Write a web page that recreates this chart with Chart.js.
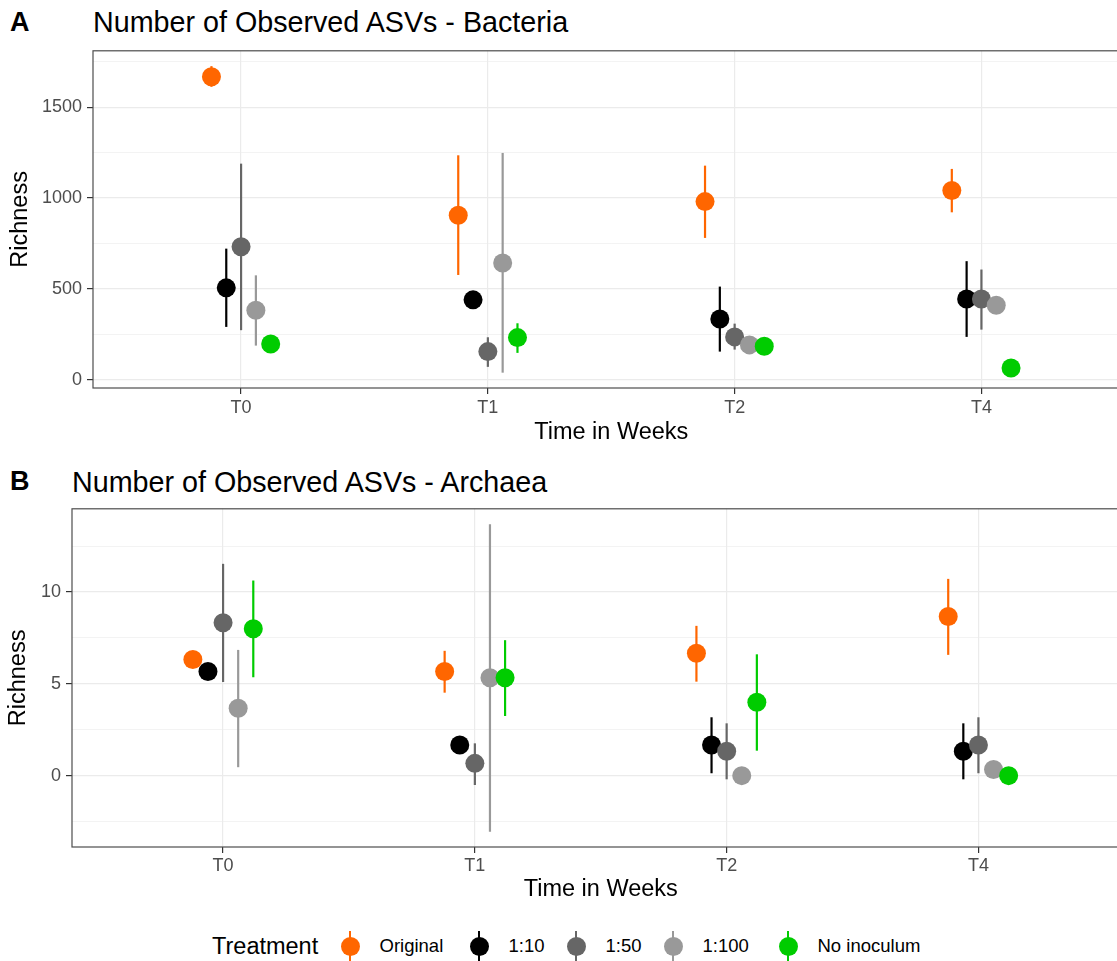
<!DOCTYPE html>
<html>
<head>
<meta charset="utf-8">
<script src="https://cdn.jsdelivr.net/npm/chart.js@4.4.1/dist/chart.umd.min.js"></script>
<style>
  body { margin:0; width:1117px; height:961px; overflow:hidden; background:#fff; position:relative;
         font-family:"Liberation Sans", Arial, sans-serif; }
  .tag { position:absolute; font-weight:bold; font-size:27px; line-height:1; color:#000; }
  .title { position:absolute; font-size:28.7px; line-height:1; color:#000; white-space:nowrap; }
  .wrap { position:absolute; left:0; width:1139px; height:415px; }
  canvas { display:block; }
  #legend { position:absolute; left:0; top:931px; width:1117px; height:30px; }
  #legend .lt { position:absolute; left:212px; top:0; line-height:30px; font-size:23.5px; }
  #legend .item { position:absolute; top:0; height:30px; display:flex; align-items:center; font-size:18.5px; color:#000; white-space:nowrap; }
  .key { position:relative; width:19px; height:30px; margin-right:20px; }
  .key .bar { position:absolute; left:8.5px; top:0; width:2px; height:30px; }
  .key .dot { position:absolute; left:0; top:5.5px; width:19px; height:19px; border-radius:50%; }
</style>
</head>
<body>
<div class="tag" style="left:10px;top:9px">A</div>
<div class="title" style="left:93px;top:8px">Number of Observed ASVs - Bacteria</div>
<div class="wrap" style="top:35px"><canvas id="chartA" width="1139" height="415" style="width:1139px;height:415px"></canvas></div>

<div class="tag" style="left:10px;top:468px">B</div>
<div class="title" style="left:72px;top:468px">Number of Observed ASVs - Archaea</div>
<div class="wrap" style="top:493px"><canvas id="chartB" width="1139" height="415" style="width:1139px;height:415px"></canvas></div>

<div id="legend"><span class="lt">Treatment</span></div>

<script>
  var weeks = ['T0', 'T1', 'T2', 'T4'];
  var treatments = ['Original', '1:10', '1:50', '1:100', 'No inoculum'];
  var colours = ['#FF6600', '#000000', '#666666', '#999999', '#00CC00'];

  // Bacteria: one row per treatment, one value per week
  var bacMean = [
    [1668, 905, 980, 1041],
    [505, 439, 334, 444],
    [731, 154, 235, 444],
    [382, 642, 191, 409],
    [196, 231, 184, 64]
  ];
  var bacLow = [
    [1612, 576, 780, 921],
    [290, 410, 154, 235],
    [272, 70, 165, 275],
    [187, 38, 170, 390],
    [180, 147, 170, 50]
  ];
  var bacHigh = [
    [1726, 1235, 1178, 1160],
    [721, 470, 512, 652],
    [1189, 233, 308, 606],
    [574, 1248, 212, 428],
    [212, 310, 198, 78]
  ];

  // Archaea
  var arcMean = [
    [6.33, 5.67, 6.67, 8.67],
    [5.67, 1.67, 1.67, 1.33],
    [8.33, 0.67, 1.33, 1.67],
    [3.67, 5.33, 0, 0.33],
    [8.0, 5.33, 4.0, 0]
  ];
  var arcLow = [
    [6.0, 4.52, 5.12, 6.58],
    [5.4, 1.4, 0.13, -0.2],
    [5.1, -0.51, -0.2, 0.13],
    [0.46, -3.05, 0, 0.2],
    [5.36, 3.25, 1.36, 0]
  ];
  var arcHigh = [
    [6.67, 6.8, 8.16, 10.72],
    [5.9, 1.9, 3.18, 2.85],
    [11.54, 1.76, 2.85, 3.18],
    [6.85, 13.7, 0, 0.46],
    [10.63, 7.38, 6.61, 0]
  ];

  var dodge = 0.06;
  var legendKeyX = [350, 479, 576, 673, 788];
  var FONT = '"Liberation Sans", Arial, sans-serif';

  // draws each dataset's error bars right before its points (like ggplot pointrange)
  var errorBars = {
    id: 'errorBars',
    beforeDatasetDraw: function(chart, args) {
      var ds = chart.data.datasets[args.index];
      var meta = args.meta;
      var y = chart.scales.y;
      var ctx = chart.ctx;
      ctx.save();
      ctx.strokeStyle = ds.backgroundColor;
      ctx.lineWidth = 2.2;
      for (var j = 0; j < meta.data.length; j++) {
        var px = meta.data[j].x;
        ctx.beginPath();
        ctx.moveTo(px, y.getPixelForValue(ds.low[j]));
        ctx.lineTo(px, y.getPixelForValue(ds.high[j]));
        ctx.stroke();
      }
      ctx.restore();
    }
  };

  var panelBorder = {
    id: 'panelBorder',
    beforeDatasetsDraw: function(chart) {
      var a = chart.chartArea;
      var ctx = chart.ctx;
      ctx.save();
      ctx.strokeStyle = '#4d4d4d';
      ctx.lineWidth = 1.2;
      ctx.strokeRect(a.left, a.top, a.right - a.left, a.bottom - a.top);
      ctx.restore();
    }
  };

  function makePanel(id, means, lows, highs, step, major, yWidth, xHeight, opts) {
    var all = [].concat.apply([], lows).concat([].concat.apply([], highs));
    var lo = Math.min.apply(null, all), hi = Math.max.apply(null, all);
    var pad = (hi - lo) * 0.05;

    var datasets = treatments.map(function(name, i) {
      return {
        label: name,
        data: means[i].map(function(v, w) { return { x: w + (i - 2) * dodge, y: v }; }),
        low: lows[i],
        high: highs[i],
        backgroundColor: colours[i],
        pointBackgroundColor: colours[i],
        pointRadius: 9.5,
        pointHoverRadius: 9.5,
        pointBorderWidth: 0,
        showLine: false,
        order: 4 - i
      };
    });

    function isMajor(v) { return Math.abs(v / major - Math.round(v / major)) < 1e-6; }

    return new Chart(document.getElementById(id), {
      type: 'scatter',
      data: { datasets: datasets },
      plugins: [errorBars, panelBorder],
      options: {
        responsive: false,
        animation: false,
        layout: { padding: 0 },
        plugins: { legend: { display: false }, tooltip: { enabled: false } },
        scales: {
          x: {
            type: 'linear',
            min: -0.6,
            max: 3.6,
            afterFit: function(s) { s.height = xHeight; },
            border: { display: false },
            grid: { color: '#ebebeb', lineWidth: 1.2, tickLength: 6, tickColor: '#333333', tickWidth: 1.2 },
            ticks: {
              stepSize: 1,
              includeBounds: false,
              padding: opts.xTickPad,
              color: '#4d4d4d',
              font: { family: FONT, size: 18 },
              maxRotation: 0,
              callback: function(v) { return weeks[v] !== undefined ? weeks[v] : ''; }
            },
            title: {
              display: true,
              text: 'Time in Weeks',
              color: '#000',
              font: { family: FONT, size: 23.5 },
              padding: { top: 0, bottom: opts.xTitlePad }
            }
          },
          y: {
            min: lo - pad,
            max: hi + pad,
            afterFit: function(s) { s.width = yWidth; },
            border: { display: false },
            grid: {
              color: '#ebebeb',
              lineWidth: function(c) { return isMajor(c.tick.value) ? 1.2 : 0.6; },
              tickLength: 6,
              tickColor: function(c) { return isMajor(c.tick.value) ? '#333333' : 'rgba(0,0,0,0)'; },
              tickWidth: 1.2
            },
            ticks: {
              stepSize: step,
              includeBounds: false,
              padding: 5,
              color: '#4d4d4d',
              font: { family: FONT, size: 18 },
              callback: function(v) { return isMajor(v) ? String(v) : ''; }
            },
            title: {
              display: true,
              text: 'Richness',
              color: '#000',
              font: { family: FONT, size: 23.5 },
              padding: { top: opts.yTitlePad, bottom: 0 }
            }
          }
        }
      }
    });
  }

  makePanel('chartA', bacMean, bacLow, bacHigh, 250, 500, 93, 62, { xTickPad: 3, xTitlePad: 3.5, yTitlePad: 6 });
  makePanel('chartB', arcMean, arcLow, arcHigh, 2.5, 5, 72, 61, { xTickPad: 2.5, xTitlePad: 4, yTitlePad: 4.5 });

  // legend row
  var legend = document.getElementById('legend');
  treatments.forEach(function(name, i) {
    var item = document.createElement('span');
    item.className = 'item';
    item.style.left = (legendKeyX[i] - 9.5) + 'px';
    item.innerHTML = '<span class="key"><span class="bar" style="background:' + colours[i] +
      '"></span><span class="dot" style="background:' + colours[i] + '"></span></span><span>' + name + '</span>';
    legend.appendChild(item);
  });
</script>
</body>
</html>
